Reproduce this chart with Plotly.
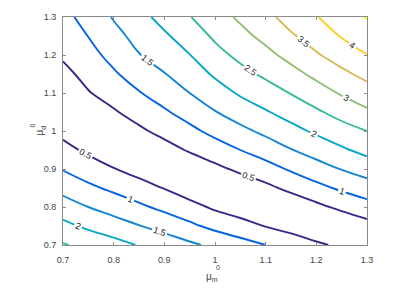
import plotly.graph_objects as go

# grid coordinates
mu_m = [0.70, 0.75, 0.80, 0.85, 0.90, 0.95, 1.00, 1.05, 1.10, 1.15, 1.20, 1.25, 1.30]
mu_d = [0.70, 0.75, 0.80, 0.85, 0.90, 0.95, 1.00, 1.05, 1.10, 1.15, 1.20, 1.25, 1.30]

# z values, one list per mu_m column (bottom -> top)
col_070 = [2.54, 2.13, 1.73, 1.34, 0.97, 0.65, 0.37, 0.13, 0.12, 0.36, 0.57, 0.72, 0.87]
col_075 = [2.36, 1.91, 1.50, 1.10, 0.74, 0.41, 0.12, 0.18, 0.47, 0.66, 0.84, 1.01, 1.16]
col_080 = [2.18, 1.72, 1.30, 0.90, 0.52, 0.19, 0.13, 0.45, 0.70, 0.94, 1.15, 1.34, 1.54]
col_085 = [1.97, 1.52, 1.09, 0.69, 0.32, 0.04, 0.41, 0.70, 0.97, 1.23, 1.48, 1.67, 1.85]
col_090 = [1.80, 1.32, 0.88, 0.48, 0.08, 0.31, 0.65, 0.94, 1.22, 1.48, 1.71, 1.93, 2.16]
col_095 = [1.59, 1.10, 0.66, 0.24, 0.16, 0.55, 0.88, 1.20, 1.50, 1.74, 1.99, 2.23, 2.48]
col_100 = [1.39, 0.87, 0.42, 0.02, 0.38, 0.77, 1.14, 1.48, 1.78, 2.07, 2.34, 2.58, 2.79]
col_105 = [1.19, 0.69, 0.24, 0.18, 0.60, 1.00, 1.38, 1.73, 2.06, 2.35, 2.62, 2.86, 3.08]
col_110 = [1.00, 0.48, 0.05, 0.38, 0.81, 1.23, 1.61, 1.96, 2.28, 2.59, 2.87, 3.13, 3.36]
col_115 = [0.81, 0.30, 0.16, 0.62, 1.06, 1.48, 1.85, 2.19, 2.52, 2.84, 3.15, 3.44, 3.70]
col_120 = [0.59, 0.10, 0.38, 0.86, 1.30, 1.70, 2.08, 2.43, 2.78, 3.12, 3.45, 3.72, 3.97]
col_125 = [0.40, 0.10, 0.61, 1.08, 1.52, 1.93, 2.30, 2.68, 3.05, 3.39, 3.72, 4.03, 4.29]
col_130 = [0.21, 0.32, 0.81, 1.27, 1.72, 2.14, 2.50, 2.92, 3.29, 3.64, 3.99, 4.26, 4.53]

columns = [col_070, col_075, col_080, col_085, col_090, col_095, col_100,
           col_105, col_110, col_115, col_120, col_125, col_130]
z = [[columns[j][i] for j in range(len(mu_m))] for i in range(len(mu_d))]

x_ticks = [0.7, 0.8, 0.9, 1.0, 1.1, 1.2, 1.3]
x_ticktext = ["0.7", "0.8", "0.9", "1", "1.1", "1.2", "1.3"]
y_ticks = [0.7, 0.8, 0.9, 1.0, 1.1, 1.2, 1.3]
y_ticktext = ["0.7", "0.8", "0.9", "1", "1.1", "1.2", "1.3"]

parula = [
    [0.0, "#352a87"], [0.125, "#0363e1"], [0.25, "#1485d4"], [0.375, "#06a7c6"],
    [0.5, "#38b99e"], [0.625, "#92bf73"], [0.75, "#d9ba56"], [0.875, "#fcce2e"],
    [1.0, "#f9fb0e"],
]

fig = go.Figure()
fig.add_trace(go.Contour(
    x=mu_m, y=mu_d, z=z,
    colorscale=parula, zmin=0.5, zmax=4.5, showscale=False,
    contours=dict(start=0.5, end=4.5, size=0.5, coloring="lines",
                  showlabels=True,
                  labelfont=dict(size=9, color="#222222", family="Liberation Sans")),
    line=dict(width=1.9, smoothing=1.3),
    hoverinfo="skip",
))

axis_common = dict(
    showline=True, mirror="ticks", ticks="inside", ticklen=3, tickwidth=1,
    linecolor="#8a8a8a", tickcolor="#8a8a8a", linewidth=1,
    showgrid=False, zeroline=False,
    tickfont=dict(size=9, color="#444444", family="Liberation Sans"),
)
fig.update_xaxes(range=[0.7, 1.3], tickvals=x_ticks, ticktext=x_ticktext,
                 ticklabelstandoff=6, **axis_common)
fig.update_yaxes(range=[0.7, 1.3], tickvals=y_ticks, ticktext=y_ticktext,
                 ticklabelstandoff=4, **axis_common)

W, H = 411, 291
L, R, T, B = 63, 44, 12, 46
pw, ph = W - L - R, H - T - B

def px(xp):
    return (xp - L) / pw

def py(yp):
    return (H - B - yp) / ph

title_font = dict(family="Liberation Sans", color="#444444")
annotations = [
    dict(text="μ<sub>m</sub>", x=px(212), y=py(278), xref="paper", yref="paper",
         showarrow=False, xanchor="center", yanchor="middle", font=dict(size=10, **title_font)),
    dict(text="0", x=px(217.5), y=py(268), xref="paper", yref="paper",
         showarrow=False, xanchor="center", yanchor="middle", font=dict(size=7, **title_font)),
    dict(text="μ<sub>d</sub>", x=px(40), y=py(128), xref="paper", yref="paper", textangle=-90,
         showarrow=False, xanchor="center", yanchor="middle", font=dict(size=10, **title_font)),
    dict(text="0", x=px(33), y=py(123), xref="paper", yref="paper", textangle=-90,
         showarrow=False, xanchor="center", yanchor="middle", font=dict(size=7, **title_font)),
]

fig.update_layout(
    width=W, height=H,
    margin=dict(l=L, r=R, t=T, b=B),
    paper_bgcolor="white", plot_bgcolor="white",
    showlegend=False,
    annotations=annotations,
)

fig.write_html("out.html", config={"displayModeBar": False},
               post_script="document.body.style.margin='0';")
